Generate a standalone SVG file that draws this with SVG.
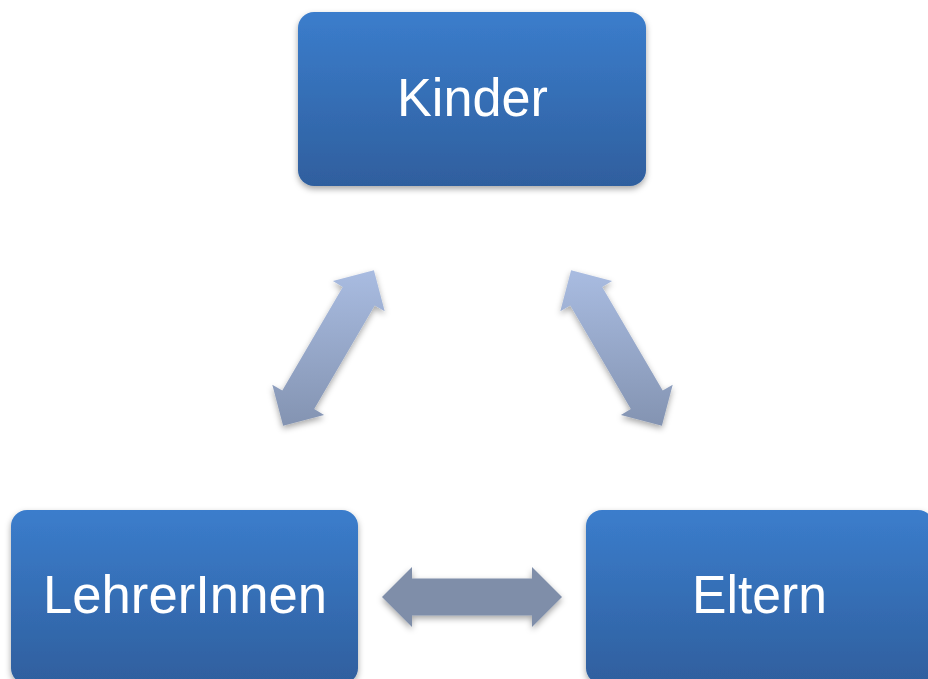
<svg xmlns="http://www.w3.org/2000/svg" width="928" height="679" viewBox="0 0 928 679">
<style>
.box{fill:url(#boxGrad);filter:url(#shadow)}
.lbl{font-family:"Liberation Sans",Arial,sans-serif;font-size:53px;fill:#ffffff;text-anchor:middle}
.diag{fill:url(#arrGrad);filter:url(#shadow)}
.horiz{fill:#7F8EA9;filter:url(#shadow)}
</style>
<defs>
<linearGradient id="boxGrad" x1="0" y1="0" x2="0" y2="1">
<stop offset="0" stop-color="#3B7DCC"/>
<stop offset="1" stop-color="#2F5F9E"/>
</linearGradient>
<linearGradient id="arrGrad" gradientUnits="userSpaceOnUse" x1="0" y1="270" x2="0" y2="428">
<stop offset="0" stop-color="#A9BCE1"/>
<stop offset="1" stop-color="#8393B1"/>
</linearGradient>
<filter id="shadow" x="-20%" y="-20%" width="140%" height="150%">
<feDropShadow dx="0" dy="3" stdDeviation="3" flood-color="#000" flood-opacity="0.35"/>
</filter>
</defs>
<g id="connectors">
<polygon class="diag" points="283.1,425.7 272.3,384.7 282.3,390.5 342.8,286.9 332.9,281.1 373.9,270.3 384.7,311.3 374.7,305.5 314.2,409.1 324.1,414.9"/>
<polygon class="diag" points="661.9,425.7 672.7,384.7 662.7,390.5 602.2,286.9 612.1,281.1 571.1,270.3 560.3,311.3 570.3,305.5 630.8,409.1 620.9,414.9"/>
<polygon class="horiz" points="382,597 412,567 412,578.5 532,578.5 532,567 562,597 532,627 532,615.5 412,615.5 412,627"/>
</g>
<g id="kinder">
<rect class="box" x="298" y="12" width="348" height="174" rx="16" ry="16"/>
<text class="lbl" x="472.5" y="116" textLength="151" lengthAdjust="spacingAndGlyphs">Kinder</text>
</g>
<g id="lehrerinnen">
<rect class="box" x="11" y="510" width="347" height="174" rx="16" ry="16"/>
<text class="lbl" x="185" y="613" textLength="284" lengthAdjust="spacingAndGlyphs">LehrerInnen</text>
</g>
<g id="eltern">
<rect class="box" x="586" y="510" width="348" height="174" rx="16" ry="16"/>
<text class="lbl" x="759.5" y="613" textLength="135" lengthAdjust="spacingAndGlyphs">Eltern</text>
</g>
</svg>
